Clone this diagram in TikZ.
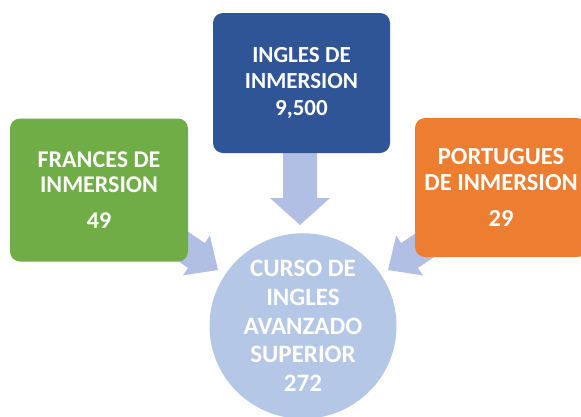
\documentclass[tikz,border=0pt]{standalone}
\usepackage{fontspec}
\setmainfont{Carlito}
\usetikzlibrary{shapes.geometric}
\definecolor{cgreen}{HTML}{70AD47}
\definecolor{cblue}{HTML}{2F5597}
\definecolor{corange}{HTML}{ED7D31}
\definecolor{ccirc}{HTML}{B4C7E7}
\definecolor{carrow}{HTML}{B1BFE4}
\tikzset{
  box/.style={rounded corners=10pt, draw=none, text=white, align=center, inner sep=0pt},
}
\newcommand{\blockarrow}[4]{% L h w S
  \fill[carrow] (0,0) -- (-#1,#2) -- (-#1,#3) -- (-#4,#3) -- (-#4,-#3) -- (-#1,-#3) -- (-#1,-#2) -- cycle;}
\begin{document}
\begin{tikzpicture}[x=1pt,y=-1pt]
\useasboundingbox (0,0) rectangle (581,416);
% tips of the block arrows
\coordinate (tipD) at (300,225);
\coordinate (tipL) at (218,270);
\coordinate (tipR) at (388,270);
% circle
\node[ellipse, fill=ccirc, minimum width=187pt, minimum height=178pt, inner sep=0pt,
  text=white, align=center, font=\fontsize{25}{28.7}\selectfont\bfseries] (curso) at (303,326)
  {CURSO DE\\INGLES\\AVANZADO\\SUPERIOR\\272};
% arrows
\begin{scope}[shift={(tipD)}, rotate=-90]
  \blockarrow{27}{30}{17}{75}
\end{scope}
\begin{scope}[shift={(tipL)}, rotate=-34]
  \blockarrow{26}{24}{15}{70}
\end{scope}
\begin{scope}[shift={(tipR)}, rotate=214]
  \blockarrow{26}{24}{15}{70}
\end{scope}
% boxes
\node[box, fill=cgreen, minimum width=178pt, minimum height=143pt,
  font=\fontsize{24}{25}\selectfont\bfseries] (frances) at (99,190)
  {FRANCES DE\\INMERSION\\[11pt]49};
\node[box, fill=cblue, minimum width=177pt, minimum height=140pt,
  font=\fontsize{23}{26.5}\selectfont\bfseries] (ingles) at (301.5,83)
  {INGLES DE\\INMERSION\\9,500};
\node[box, fill=corange, minimum width=172pt, minimum height=139pt,
  font=\fontsize{24.5}{25.5}\selectfont\bfseries] (portugues) at (501,187.5)
  {PORTUGUES\\DE INMERSION\\[11pt]29};
\end{tikzpicture}
\end{document}
